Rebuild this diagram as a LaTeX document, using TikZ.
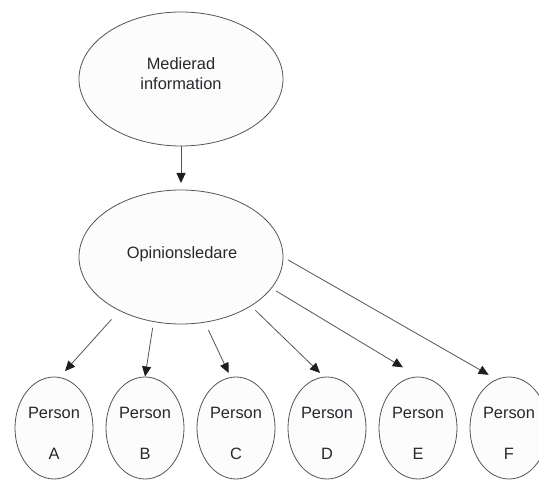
\documentclass[tikz,border=0pt]{standalone}
\usepackage{fontspec}
\setmainfont{Liberation Sans}
\usetikzlibrary{arrows.meta,shapes.geometric}
\definecolor{linec}{RGB}{85,85,85}
\definecolor{txtc}{RGB}{40,40,45}
\definecolor{tipc}{RGB}{30,30,30}
\definecolor{fillc}{RGB}{253,252,253}
\tikzset{
  bigell/.style={ellipse, draw=linec, line width=0.8pt, fill=fillc, inner sep=0pt, outer sep=0pt,
    minimum width=204pt, minimum height=134pt},
  persell/.style={ellipse, draw=linec, line width=0.8pt, fill=fillc, inner sep=0pt, outer sep=0pt,
    minimum width=78pt, minimum height=102pt},
  lbl/.style={inner sep=0pt, outer sep=0pt, text=txtc, anchor=base, font=\fontsize{16.4}{20}\selectfont},
  arr/.style={draw=linec, line width=0.8pt, -{Triangle[length=10pt,width=9pt,color=tipc]}}
}
\begin{document}
\begin{tikzpicture}[x=1pt,y=-1pt]
\useasboundingbox (0,0) rectangle (539,481);
\fill[white] (0,0) rectangle (539,481);
% top ellipses
\node[bigell] (med) at (181,79) {};
\node[lbl] (medt1) at (181,70) {Medierad};
\node[lbl] (medt2) at (181,89.5) {information};
\node[bigell] (op) at (181,257) {};
\node[lbl] (opt) at (182,259) {Opinionsledare};
% persons
\foreach \n/\x/\l in {pA/54/A, pB/145/B, pC/236/C, pD/327/D, pE/418/E, pF/509/F}{
  \node[persell] (\n) at (\x,428) {};
  \node[lbl] (\n t) at (\x,419) {Person};
  \node[lbl] (\n l) at (\x,460) {\l};
}
% arrows
\draw[arr, shorten >=7pt] (med.south) -- (op.north);
\draw[arr, shorten <=12pt, shorten >=8.6pt] (op.221) -- (pA.84);
\draw[arr, shorten <=6.5pt, shorten >=0.5pt] (op.247.5) -- (pB.90.5);
\draw[arr, shorten <=8.7pt, shorten >=5pt] (op.290.4) -- (pC.96.8);
\draw[arr, shorten <=6.3pt, shorten >=6pt] (op.325.9) -- (pD.93.4);
\draw[arr, shorten <=5.4pt, shorten >=18.7pt] (op.341.8) -- (pE.89);
\draw[arr, shorten <=5.8pt, shorten >=9.5pt] (op.-0.6) -- (pF.104.9);
\end{tikzpicture}
\end{document}
